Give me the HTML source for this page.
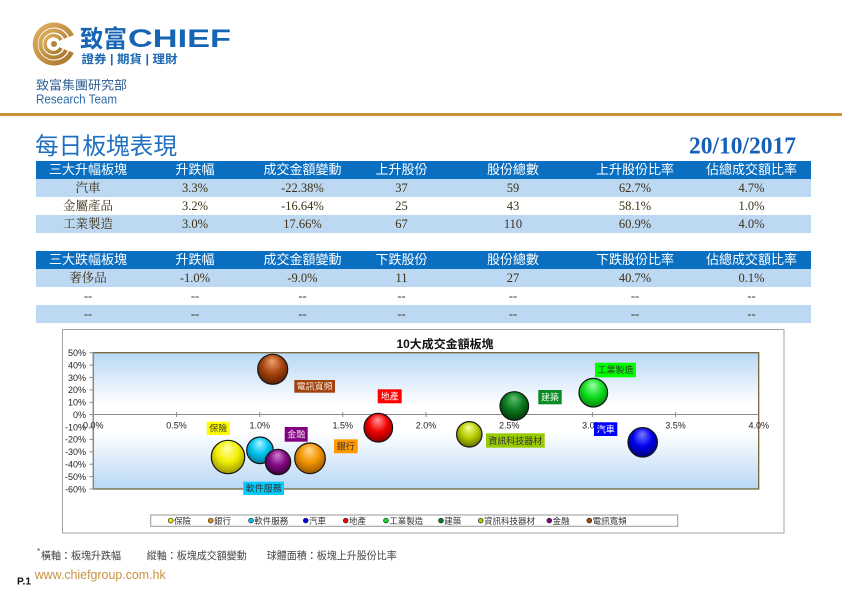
<!DOCTYPE html>
<html>
<head>
<meta charset="utf-8">
<style>
  html,body{margin:0;padding:0;background:#fff;}
  body{width:842px;height:595px;position:relative;overflow:hidden;font-family:"Liberation Sans","Noto Sans CJK TC",sans-serif;}
  .tbl{position:absolute;left:36px;width:775px;}
  .row{display:flex;height:18px;line-height:18px;}
  .row div{text-align:center;white-space:nowrap;overflow:hidden;}
  .hd{background:#0b6fc1;color:#fff;font-family:"Liberation Sans","Noto Sans CJK TC",sans-serif;font-size:13px;}
  .b{background:#bdd8f2;}
  .w{background:#fff;}
  .bd{color:#3d3115;font-family:"Liberation Serif","Noto Serif CJK SC",serif;font-size:12.5px;}
  .c1{width:104px}.c2{width:110px}.c3{width:105px}.c4{width:93px}.c5{width:130px}.c6{width:114px}.c7{width:119px}
  svg{position:absolute;left:0;top:0;}
</style>
</head>
<body>
<svg width="842" height="595" viewBox="0 0 842 595" xmlns="http://www.w3.org/2000/svg">
  <defs>
    <linearGradient id="plotbg" x1="0" y1="0" x2="0" y2="1">
      <stop offset="0" stop-color="#b8d7f5"/>
      <stop offset="0.38" stop-color="#ffffff"/>
      <stop offset="0.58" stop-color="#ffffff"/>
      <stop offset="1" stop-color="#b8d7f5"/>
    </linearGradient>
    <linearGradient id="gold" x1="0" y1="0" x2="1" y2="1">
      <stop offset="0" stop-color="#e0b060"/>
      <stop offset="1" stop-color="#a8742a"/>
    </linearGradient>
    <radialGradient id="gBrown" cx="0.5" cy="0.4" r="0.6" fx="0.48" fy="0.22"><stop offset="0" stop-color="#f0a070"/><stop offset="0.55" stop-color="#a8450f"/><stop offset="1" stop-color="#5a2000"/></radialGradient>
    <radialGradient id="gYellow" cx="0.5" cy="0.4" r="0.6" fx="0.48" fy="0.22"><stop offset="0" stop-color="#ffffb0"/><stop offset="0.55" stop-color="#f2f000"/><stop offset="1" stop-color="#9a9800"/></radialGradient>
    <radialGradient id="gCyan" cx="0.5" cy="0.4" r="0.6" fx="0.48" fy="0.22"><stop offset="0" stop-color="#b0f4ff"/><stop offset="0.55" stop-color="#00c4f0"/><stop offset="1" stop-color="#007a9a"/></radialGradient>
    <radialGradient id="gPurple" cx="0.5" cy="0.4" r="0.6" fx="0.48" fy="0.22"><stop offset="0" stop-color="#d080d0"/><stop offset="0.55" stop-color="#820a82"/><stop offset="1" stop-color="#3a003a"/></radialGradient>
    <radialGradient id="gOrange" cx="0.5" cy="0.4" r="0.6" fx="0.48" fy="0.22"><stop offset="0" stop-color="#ffd890"/><stop offset="0.55" stop-color="#f29400"/><stop offset="1" stop-color="#9a5600"/></radialGradient>
    <radialGradient id="gRed" cx="0.5" cy="0.4" r="0.6" fx="0.48" fy="0.22"><stop offset="0" stop-color="#ff9a9a"/><stop offset="0.55" stop-color="#f20000"/><stop offset="1" stop-color="#8a0000"/></radialGradient>
    <radialGradient id="gYG" cx="0.5" cy="0.4" r="0.6" fx="0.48" fy="0.22"><stop offset="0" stop-color="#f4ff9a"/><stop offset="0.55" stop-color="#b8cc00"/><stop offset="1" stop-color="#667400"/></radialGradient>
    <radialGradient id="gDG" cx="0.5" cy="0.4" r="0.6" fx="0.48" fy="0.22"><stop offset="0" stop-color="#60c070"/><stop offset="0.55" stop-color="#0a7a1e"/><stop offset="1" stop-color="#003a08"/></radialGradient>
    <radialGradient id="gGreen" cx="0.5" cy="0.4" r="0.6" fx="0.48" fy="0.22"><stop offset="0" stop-color="#a0ffa8"/><stop offset="0.55" stop-color="#10e020"/><stop offset="1" stop-color="#008a10"/></radialGradient>
    <radialGradient id="gBlue" cx="0.5" cy="0.4" r="0.6" fx="0.48" fy="0.22"><stop offset="0" stop-color="#7a7aff"/><stop offset="0.55" stop-color="#0000ee"/><stop offset="1" stop-color="#00007a"/></radialGradient>
  </defs>

  <!-- Logo -->
  <g fill="none" stroke="url(#gold)">
    <path d="M71.5 36 A19 19 0 1 0 71.5 52" stroke-width="5"/>
    <path d="M66 38 A13.5 13.5 0 1 0 66 50" stroke-width="4"/>
    <path d="M61 40 A8.5 8.5 0 1 0 61 48" stroke-width="3.5"/>
  </g>
  <circle cx="54" cy="44" r="3" fill="#b88236"/>
  <text x="80" y="47" font-size="24" font-weight="bold" fill="#1664b4" font-family="'Liberation Sans','Noto Sans CJK TC',sans-serif" textLength="47" lengthAdjust="spacingAndGlyphs">致富</text>
  <text x="128" y="46.8" font-size="25" font-weight="bold" fill="#1664b4" font-family="'Liberation Sans',sans-serif" textLength="103" lengthAdjust="spacingAndGlyphs">CHIEF</text>
  <text x="81.5" y="63" font-size="11.5" font-weight="bold" fill="#1a66b2" font-family="'Liberation Sans','Noto Sans CJK TC',sans-serif" textLength="96" lengthAdjust="spacingAndGlyphs">證券 | 期貨 | 理財</text>
  <text x="36" y="89.5" font-size="12.5" fill="#2f5f92" font-family="'Liberation Sans','Noto Sans CJK TC',sans-serif" textLength="91" lengthAdjust="spacingAndGlyphs">致富集團研究部</text>
  <text x="36" y="103.5" font-size="12.5" fill="#2e6aa8" font-family="'Liberation Sans',sans-serif" textLength="81" lengthAdjust="spacingAndGlyphs">Research Team</text>
  <rect x="0" y="113" width="842" height="3" fill="#c9923f"/>

  <!-- Title -->
  <text x="35" y="154" font-size="23.5" fill="#1f6fc0" font-family="'Liberation Sans','Noto Sans CJK TC',sans-serif" textLength="142" lengthAdjust="spacingAndGlyphs">每日板塊表現</text>
  <text x="689" y="153.5" font-size="24" font-weight="bold" fill="#1560b8" font-family="'Liberation Serif',serif" textLength="107" lengthAdjust="spacingAndGlyphs">20/10/2017</text>

  <!-- Chart box -->
  <rect x="62.5" y="329.5" width="721.5" height="203.5" fill="#fff" stroke="#a0a0a0" stroke-width="1"/>
  <text x="445" y="348" font-size="11.5" font-weight="bold" fill="#111" text-anchor="middle" font-family="'Liberation Sans','Noto Sans CJK TC',sans-serif" textLength="97" lengthAdjust="spacingAndGlyphs">10大成交金額板塊</text>

  <!-- Plot area -->
  <rect x="93.3" y="352.7" width="665.4" height="136.3" fill="url(#plotbg)" stroke="#6b5a2a" stroke-width="1.2"/>
  <line x1="93.3" y1="352.7" x2="93.3" y2="489" stroke="#8c8c8c" stroke-width="1.5"/>
  <line x1="93.3" y1="414.5" x2="758.7" y2="414.5" stroke="#8c8c8c" stroke-width="1"/>
  <g stroke="#8c8c8c" stroke-width="1">
    <line x1="176.5" y1="412" x2="176.5" y2="417"/>
    <line x1="259.7" y1="412" x2="259.7" y2="417"/>
    <line x1="342.8" y1="412" x2="342.8" y2="417"/>
    <line x1="426" y1="412" x2="426" y2="417"/>
    <line x1="509.2" y1="412" x2="509.2" y2="417"/>
    <line x1="592.4" y1="412" x2="592.4" y2="417"/>
    <line x1="675.5" y1="412" x2="675.5" y2="417"/>
    <line x1="89.5" y1="352.7" x2="93.3" y2="352.7"/>
    <line x1="89.5" y1="365.1" x2="93.3" y2="365.1"/>
    <line x1="89.5" y1="377.5" x2="93.3" y2="377.5"/>
    <line x1="89.5" y1="389.9" x2="93.3" y2="389.9"/>
    <line x1="89.5" y1="402.3" x2="93.3" y2="402.3"/>
    <line x1="89.5" y1="414.6" x2="93.3" y2="414.6"/>
    <line x1="89.5" y1="427" x2="93.3" y2="427"/>
    <line x1="89.5" y1="439.4" x2="93.3" y2="439.4"/>
    <line x1="89.5" y1="451.8" x2="93.3" y2="451.8"/>
    <line x1="89.5" y1="464.2" x2="93.3" y2="464.2"/>
    <line x1="89.5" y1="476.6" x2="93.3" y2="476.6"/>
    <line x1="89.5" y1="489" x2="93.3" y2="489"/>
  </g>
  <g font-size="9" fill="#222" text-anchor="end" font-family="'Liberation Sans',sans-serif">
    <text x="86" y="356">50%</text>
    <text x="86" y="368.4">40%</text>
    <text x="86" y="380.8">30%</text>
    <text x="86" y="393.2">20%</text>
    <text x="86" y="405.6">10%</text>
    <text x="86" y="417.9">0%</text>
    <text x="86" y="430.3">-10%</text>
    <text x="86" y="442.7">-20%</text>
    <text x="86" y="455.1">-30%</text>
    <text x="86" y="467.5">-40%</text>
    <text x="86" y="479.9">-50%</text>
    <text x="86" y="492.3">-60%</text>
  </g>
  <g font-size="9" fill="#222" text-anchor="middle" font-family="'Liberation Sans',sans-serif">
    <text x="93.3" y="428.5">0.0%</text>
    <text x="176.5" y="428.5">0.5%</text>
    <text x="259.7" y="428.5">1.0%</text>
    <text x="342.8" y="428.5">1.5%</text>
    <text x="426" y="428.5">2.0%</text>
    <text x="509.2" y="428.5">2.5%</text>
    <text x="592.4" y="428.5">3.0%</text>
    <text x="675.5" y="428.5">3.5%</text>
    <text x="758.7" y="428.5">4.0%</text>
  </g>

  <!-- Bubbles -->
  <g stroke="#151515" stroke-width="1.2">
    <circle cx="272.7" cy="369.3" r="15" fill="url(#gBrown)"/>
    <circle cx="378.3" cy="427.7" r="14.3" fill="url(#gRed)"/>
    <circle cx="228" cy="457" r="16.7" fill="url(#gYellow)"/>
    <circle cx="260" cy="450.3" r="13.3" fill="url(#gCyan)"/>
    <circle cx="310" cy="458.3" r="15.3" fill="url(#gOrange)"/>
    <circle cx="278" cy="462" r="12.7" fill="url(#gPurple)"/>
    <circle cx="469.3" cy="434.3" r="12.7" fill="url(#gYG)"/>
    <circle cx="514.3" cy="406" r="14.3" fill="url(#gDG)"/>
    <circle cx="593.3" cy="392.7" r="14.3" fill="url(#gGreen)"/>
    <circle cx="642.7" cy="442.3" r="14.7" fill="url(#gBlue)"/>
  </g>

  <!-- Data labels -->
  <g font-size="9" font-family="'Liberation Sans','Noto Sans CJK TC',sans-serif" text-anchor="middle">
    <rect x="294.3" y="380" width="40.7" height="12.7" fill="#a0410f"/>
    <text x="314.6" y="389.7" fill="#f4e6da">電訊寬頻</text>
    <rect x="377.7" y="389.3" width="24" height="14" fill="#ff0000"/>
    <text x="389.7" y="399.6" fill="#fff">地產</text>
    <rect x="206.7" y="421.7" width="23.3" height="13.3" fill="#ffff00"/>
    <text x="218.3" y="431.7" fill="#333">保險</text>
    <rect x="284.7" y="427" width="23" height="14.7" fill="#800080"/>
    <text x="296.2" y="437.6" fill="#f0e0f0">金融</text>
    <rect x="334" y="439.3" width="23.7" height="14" fill="#ff9900"/>
    <text x="345.8" y="449.6" fill="#333">銀行</text>
    <rect x="243.3" y="481.7" width="40.7" height="13.3" fill="#00ccff"/>
    <text x="263.7" y="491.6" fill="#333">軟件服務</text>
    <rect x="486" y="433.3" width="58.7" height="14.4" fill="#99cc00"/>
    <text x="515.3" y="443.8" fill="#333">資訊科技器材</text>
    <rect x="538.3" y="390" width="23.4" height="14.3" fill="#0a8a24"/>
    <text x="550" y="400.4" fill="#f0fff0">建築</text>
    <rect x="595" y="362.7" width="41" height="14.6" fill="#00ff00"/>
    <text x="615.5" y="373.2" fill="#333">工業製造</text>
    <rect x="594" y="422.3" width="23.3" height="13.7" fill="#0000ff"/>
    <text x="605.7" y="432.4" fill="#fff">汽車</text>
  </g>

  <!-- Legend -->
  <rect x="150.7" y="515" width="527" height="11.3" fill="#fff" stroke="#999" stroke-width="1"/>
  <g stroke="#222" stroke-width="0.7">
    <circle cx="170.7" cy="520.6" r="2.4" fill="#f0f000"/>
    <circle cx="210.7" cy="520.6" r="2.4" fill="#f29400"/>
    <circle cx="251" cy="520.6" r="2.4" fill="#00c4f0"/>
    <circle cx="305.7" cy="520.6" r="2.4" fill="#0000ee"/>
    <circle cx="345.7" cy="520.6" r="2.4" fill="#f20000"/>
    <circle cx="386" cy="520.6" r="2.4" fill="#10e020"/>
    <circle cx="441" cy="520.6" r="2.4" fill="#0a7a1e"/>
    <circle cx="480.7" cy="520.6" r="2.4" fill="#b8cc00"/>
    <circle cx="549.3" cy="520.6" r="2.4" fill="#820a82"/>
    <circle cx="589.3" cy="520.6" r="2.4" fill="#a8450f"/>
  </g>
  <g font-size="8.5" fill="#333" font-family="'Liberation Sans','Noto Sans CJK TC',sans-serif">
    <text x="174" y="523.8">保險</text>
    <text x="214" y="523.8">銀行</text>
    <text x="254.3" y="523.8">軟件服務</text>
    <text x="309" y="523.8">汽車</text>
    <text x="349" y="523.8">地產</text>
    <text x="389.3" y="523.8">工業製造</text>
    <text x="444.3" y="523.8">建築</text>
    <text x="484" y="523.8">資訊科技器材</text>
    <text x="552.6" y="523.8">金融</text>
    <text x="592.6" y="523.8">電訊寬頻</text>
  </g>

  <!-- Footer -->
  <g font-size="10.5" fill="#444" font-family="'Liberation Sans','Noto Sans CJK TC',sans-serif">
    <text x="37" y="554" font-size="8">*</text>
    <text x="41" y="559" textLength="80" lengthAdjust="spacingAndGlyphs">橫軸：板塊升跌幅</text>
    <text x="146.7" y="559" textLength="100" lengthAdjust="spacingAndGlyphs">縱軸：板塊成交額變動</text>
    <text x="266.7" y="559" textLength="130" lengthAdjust="spacingAndGlyphs">球體面積：板塊上升股份比率</text>
  </g>
  <text x="17" y="584.5" font-size="10" font-weight="bold" fill="#111" font-family="'Liberation Sans',sans-serif" textLength="14" lengthAdjust="spacingAndGlyphs">P.1</text>
  <text x="34.7" y="579" font-size="12.5" fill="#c9923f" font-family="'Liberation Sans',sans-serif" textLength="131" lengthAdjust="spacingAndGlyphs">www.chiefgroup.com.hk</text>
</svg>

<!-- Table 1 -->
<div class="tbl" style="top:161px;">
  <div class="row hd"><div class="c1">三大升幅板塊</div><div class="c2">升跌幅</div><div class="c3">成交金額變動</div><div class="c4">上升股份</div><div class="c5">股份總數</div><div class="c6">上升股份比率</div><div class="c7">佔總成交額比率</div></div>
  <div class="row b bd"><div class="c1">汽車</div><div class="c2">3.3%</div><div class="c3">-22.38%</div><div class="c4">37</div><div class="c5">59</div><div class="c6">62.7%</div><div class="c7">4.7%</div></div>
  <div class="row w bd"><div class="c1">金屬產品</div><div class="c2">3.2%</div><div class="c3">-16.64%</div><div class="c4">25</div><div class="c5">43</div><div class="c6">58.1%</div><div class="c7">1.0%</div></div>
  <div class="row b bd"><div class="c1">工業製造</div><div class="c2">3.0%</div><div class="c3">17.66%</div><div class="c4">67</div><div class="c5">110</div><div class="c6">60.9%</div><div class="c7">4.0%</div></div>
</div>

<!-- Table 2 -->
<div class="tbl" style="top:251px;">
  <div class="row hd"><div class="c1">三大跌幅板塊</div><div class="c2">升跌幅</div><div class="c3">成交金額變動</div><div class="c4">下跌股份</div><div class="c5">股份總數</div><div class="c6">下跌股份比率</div><div class="c7">佔總成交額比率</div></div>
  <div class="row b bd"><div class="c1">奢侈品</div><div class="c2">-1.0%</div><div class="c3">-9.0%</div><div class="c4">11</div><div class="c5">27</div><div class="c6">40.7%</div><div class="c7">0.1%</div></div>
  <div class="row w bd"><div class="c1">--</div><div class="c2">--</div><div class="c3">--</div><div class="c4">--</div><div class="c5">--</div><div class="c6">--</div><div class="c7">--</div></div>
  <div class="row b bd"><div class="c1">--</div><div class="c2">--</div><div class="c3">--</div><div class="c4">--</div><div class="c5">--</div><div class="c6">--</div><div class="c7">--</div></div>
</div>
</body>
</html>
